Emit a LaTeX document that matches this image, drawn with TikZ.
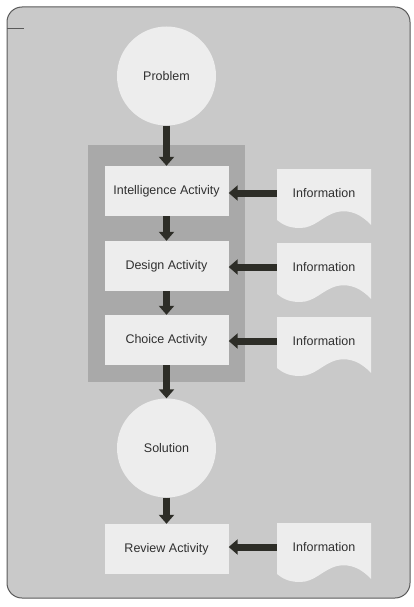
\documentclass[tikz,border=0pt]{standalone}
\usepackage{fontspec}
\setmainfont{Liberation Sans}
\usetikzlibrary{arrows.meta}

\definecolor{panel}{HTML}{C9C9C9}
\definecolor{paneledge}{HTML}{5A5A5A}
\definecolor{groupfill}{HTML}{A9A9A9}
\definecolor{paper}{HTML}{EDEDED}
\definecolor{ink}{HTML}{2D2D27}
\definecolor{label}{HTML}{303030}

\tikzset{
  lbl/.style={font=\fontsize{12.5}{14}\selectfont, text=label},
  stepbox/.style={lbl, rectangle, fill=paper, minimum width=124pt, minimum height=50pt, inner sep=0pt},
  disc/.style={lbl, circle, fill=paper, minimum size=99pt, inner sep=0pt},
  infotext/.style={lbl, rectangle, minimum width=94pt, minimum height=46pt, inner sep=0pt},
  flow/.style={draw=ink, line width=7pt, -{Triangle[width=15pt,length=9pt]}, color=ink},
}

% document-shaped sheet with a wavy lower edge; #1 = name, #2 = centre y
\newcommand\infodoc[2]{%
  \fill[paper] (277,#2-24) -- (371,#2-24) -- (371,#2+32)
    .. controls (362,#2+22) and (350,#2+16) .. (337,#2+19)
    .. controls (322,#2+23) and (315,#2+35) .. (300,#2+35)
    .. controls (288,#2+35) and (282,#2+31) .. (277,#2+27) -- cycle;
  \node[infotext] (#1) at (324,#2) {Information};
}

\begin{document}
\begin{tikzpicture}[x=1pt, y=-1pt]
  \useasboundingbox (0,0) rectangle (413,607);

  % outer panel
  \draw[paneledge, line width=1pt, fill=panel, rounded corners=15pt] (7,7) rectangle (410,598);
  \draw[paneledge, line width=1pt] (7,29) -- (24,29);

  % grouped decision phases
  \fill[groupfill] (88,145) rectangle (245,382);

  \node[disc] (problem) at (166.5,76) {Problem};
  \node[stepbox] (intel)  at (166.5,191) {Intelligence Activity};
  \node[stepbox] (design) at (166.5,266) {Design Activity};
  \node[stepbox] (choice) at (166.5,340) {Choice Activity};
  \node[disc] (solution) at (166.5,448) {Solution};
  \node[stepbox] (review) at (166.5,549) {Review Activity};

  \infodoc{info1}{193}
  \infodoc{info2}{267}
  \infodoc{info3}{341}
  \infodoc{info4}{547}

  % main flow
  \draw[flow] (problem.south) -- (intel.north);
  \draw[flow] (intel.south) -- (design.north);
  \draw[flow] (design.south) -- (choice.north);
  \draw[flow] (choice.south) -- (solution.north);
  \draw[flow] (solution.south) -- (review.north);

  % information inputs
  \draw[flow] (info1.west) -- (info1.west -| intel.east);
  \draw[flow] (info2.west) -- (info2.west -| design.east);
  \draw[flow] (info3.west) -- (info3.west -| choice.east);
  \draw[flow] (info4.west) -- (info4.west -| review.east);
\end{tikzpicture}
\end{document}
